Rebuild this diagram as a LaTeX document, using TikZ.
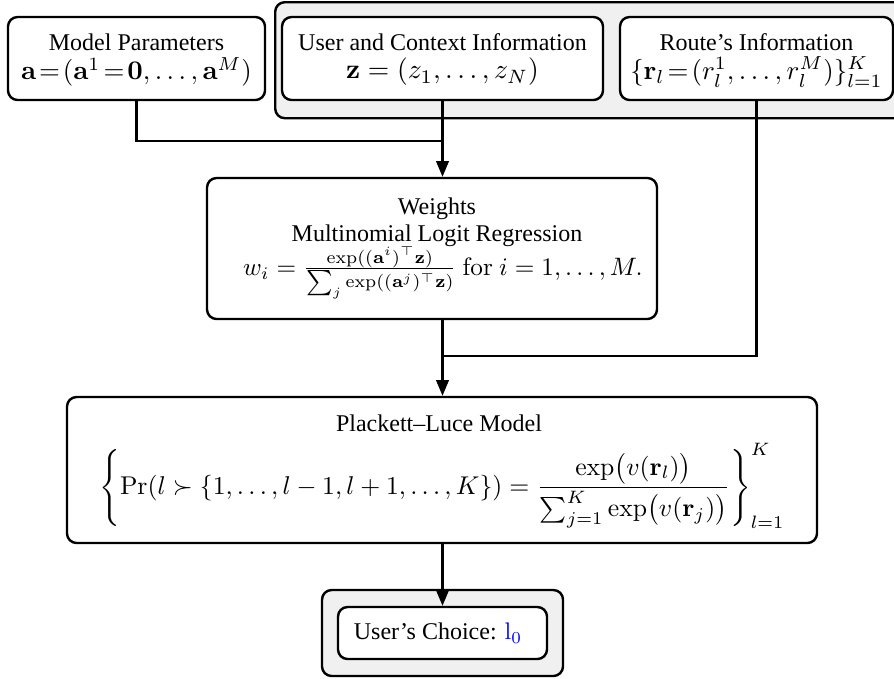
\documentclass[tikz,border=0pt]{standalone}
\usepackage[no-math]{fontspec}
\setmainfont{Liberation Serif}
\usepackage{graphicx}
\usetikzlibrary{arrows.meta}
\begin{document}
\begin{tikzpicture}[x=0.4167pt,y=-0.4167pt,
  box/.style={draw, line width=1pt, rounded corners=4pt, fill=white, inner sep=0pt},
  grp/.style={draw, line width=1pt, rounded corners=4pt, fill=black!6, inner sep=0pt},
  wh/.style 2 args={minimum width=#1*0.4167pt, minimum height=#2*0.4167pt},
  txt/.style={inner sep=0pt, align=center},
  conn/.style={line width=0.9pt},
  arr/.style={conn, -{Triangle[length=6.5pt,width=5.2pt]}}]
\useasboundingbox (0,0) rectangle (894,678);

% top group
\node[grp, wh={640}{116}, anchor=north west] (ctx) at (274,1) {};
\node[box, wh={257}{83}] (mp) at (136.5,58.5) {};
\node[box, wh={321}{83}] (uc) at (442.5,58.5) {};
\node[box, wh={273}{83}] (rt) at (756.5,58.5) {};
\node[txt] (mpt) at (136.5,42) {Model Parameters};
\node[txt] (mpf) at (136.5,72) {\scalebox{1.12}{$\mathbf{a}\!=\!(\mathbf{a}^1\!=\!\mathbf{0},\dots,\mathbf{a}^M)$}};
\node[txt] (uct) at (442.5,42) {User and Context Information};
\node[txt] (ucf) at (442.5,72) {\scalebox{1.15}{$\mathbf{z}=(z_1,\dots,z_N)$}};
\node[txt] (rtt) at (756.5,42) {Route's Information};
\node[txt] (rtf) at (756.5,72) {\scalebox{1.12}{$\{\mathbf{r}_l\!=\!(r_l^1,\dots,r_l^M)\}_{l=1}^K$}};

% weights
\node[box, wh={450}{141}] (w) at (432,248.5) {};
\node[txt] (wt1) at (437,209) {Weights};
\node[txt] (wt2) at (437,236) {Multinomial Logit Regression};
\node[txt] (wf) at (443,273)
  {\scalebox{1.05}{$w_i=\frac{\exp((\mathbf{a}^i)^\top\mathbf{z})}{\sum_j\exp((\mathbf{a}^j)^\top\mathbf{z})}\ \mathrm{for}\ i=1,\dots,M.$}};

% Plackett-Luce
\node[box, wh={750}{146}] (pl) at (442,470) {};
\node[txt] (plt) at (439,423) {Plackett--Luce Model};
\node[txt] (plf) at (442,486)
  {\scalebox{1.07}{$\displaystyle\left\{\Pr(l\succ\{1,\dots,l-1,l+1,\dots,K\})=\frac{\exp\bigl(v(\mathbf{r}_l)\bigr)}{\sum_{j=1}^{K}\exp\bigl(v(\mathbf{r}_j)\bigr)}\right\}_{l=1}^{K}$}};

% choice
\node[grp, wh={241}{86}] (cho) at (442.5,633) {};
\node[box, wh={209}{52}] (ch) at (442.5,633) {};
\node[txt] (cht) at (438,633) {User's Choice: \textcolor{blue}{$\mathrm{l}_0$}};

% connectors
\coordinate (j1) at (442.5,141);
\coordinate (j2) at (442.5,356);
\draw[conn] (mp.south) |- (j1);
\draw[arr] (uc.south) -- (uc.south |- w.north);
\draw[conn] (rt.south) |- (j2);
\draw[arr] (uc.south |- w.south) -- (uc.south |- pl.north);
\draw[arr] (ch.north |- pl.south) -- (ch.north);
\end{tikzpicture}
\end{document}
